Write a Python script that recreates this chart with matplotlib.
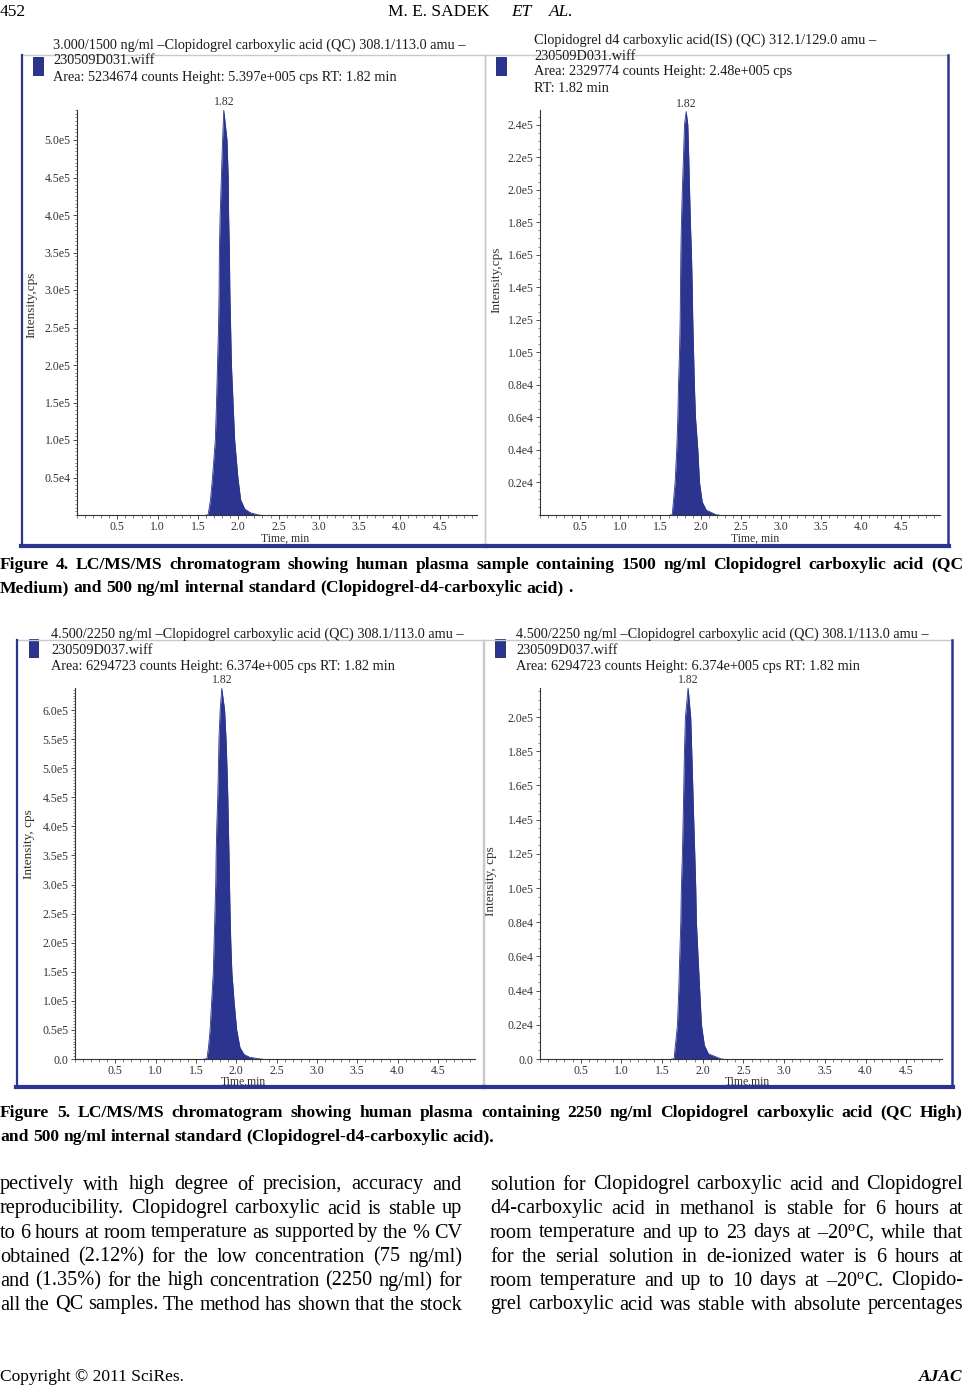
import matplotlib
matplotlib.use("Agg")
import matplotlib.pyplot as plt
from matplotlib.lines import Line2D
from matplotlib.patches import Rectangle
from matplotlib.ticker import FixedLocator, MultipleLocator

plt.rcParams['font.family'] = ['Liberation Serif', 'DejaVu Serif']
plt.rcParams['mathtext.fontset'] = 'custom'
plt.rcParams['mathtext.rm'] = 'Liberation Serif'
plt.rcParams['mathtext.it'] = 'Liberation Serif:italic'

# ───── DATA (intensities in units of 1e5 cps, time in min) ─────
# Fig 4 left: Clopidogrel carboxylic acid, QC medium
time_a = [1.60, 1.625, 1.655, 1.68, 1.715, 1.73, 1.742, 1.755, 1.762, 1.765, 1.775, 1.79, 1.805,
          1.82, 1.86, 1.875, 1.88, 1.89, 1.895, 1.905, 1.915, 1.935, 1.955, 1.995, 2.03, 2.08,
          2.15, 2.25, 2.27]
int_a = [0, 0, 0.2, 0.5, 1.0, 1.5, 2.0, 2.5, 3.0, 3.5, 4.0, 4.5, 5.0,
         5.397, 5.0, 4.5, 4.0, 3.5, 3.0, 2.5, 2.0, 1.5, 1.0, 0.5, 0.2, 0.08,
         0.03, 0, 0]
# Fig 4 right: Clopidogrel d4 carboxylic acid (IS)
time_b = [1.62, 1.646, 1.682, 1.702, 1.716, 1.724, 1.737, 1.745, 1.749, 1.753, 1.761, 1.772, 1.786,
          1.799, 1.82, 1.84, 1.852, 1.862, 1.872, 1.886, 1.895, 1.902, 1.912, 1.922, 1.936, 1.965,
          1.986, 2.02, 2.07, 2.20, 2.23]
int_b = [0, 0, 0.2, 0.4, 0.6, 0.8, 1.0, 1.2, 1.4, 1.6, 1.8, 2.0, 2.2,
         2.4, 2.48, 2.4, 2.2, 2.0, 1.8, 1.6, 1.4, 1.2, 1.0, 0.8, 0.6, 0.4,
         0.2, 0.08, 0.03, 0, 0]
# Fig 5 left: Clopidogrel carboxylic acid, QC high
time_c = [1.60, 1.635, 1.655, 1.675, 1.695, 1.715, 1.725, 1.735, 1.745, 1.75, 1.758, 1.77, 1.778,
          1.785, 1.80, 1.82, 1.855, 1.873, 1.885, 1.895, 1.902, 1.910, 1.916, 1.923, 1.932, 1.945,
          1.972, 2.005, 2.045, 2.095, 2.165, 2.295, 2.32]
int_c = [0, 0, 0.2, 0.5, 1.0, 1.5, 2.0, 2.5, 3.0, 3.5, 4.0, 4.5, 5.0,
         5.5, 6.0, 6.374, 6.0, 5.5, 5.0, 4.5, 4.0, 3.5, 3.0, 2.5, 2.0, 1.5,
         1.0, 0.5, 0.2, 0.08, 0.03, 0, 0]
# Fig 5 right
time_d = [1.62, 1.647, 1.689, 1.705, 1.717, 1.73, 1.737, 1.75, 1.759, 1.767, 1.775, 1.787, 1.82,
          1.852, 1.865, 1.877, 1.889, 1.902, 1.914, 1.922, 1.942, 1.963, 1.984, 2.02, 2.07, 2.227, 2.25]
int_d = [0, 0, 0.2, 0.4, 0.6, 0.8, 1.0, 1.2, 1.4, 1.6, 1.8, 2.0, 2.17,
         2.0, 1.8, 1.6, 1.4, 1.2, 1.0, 0.8, 0.6, 0.4, 0.2, 0.08, 0.03, 0, 0]

x_ticks = [0.5, 1.0, 1.5, 2.0, 2.5, 3.0, 3.5, 4.0, 4.5]
x_ticklabels = ["0.5", "1.0", "1.5", "2.0", "2.5", "3.0", "3.5", "4.0", "4.5"]

yt_a = [0.5, 1.0, 1.5, 2.0, 2.5, 3.0, 3.5, 4.0, 4.5, 5.0]
ytl_a = ["0.5e4", "1.0e5", "1.5e5", "2.0e5", "2.5e5", "3.0e5", "3.5e5", "4.0e5", "4.5e5", "5.0e5"]
yt_b = [0.2, 0.4, 0.6, 0.8, 1.0, 1.2, 1.4, 1.6, 1.8, 2.0, 2.2, 2.4]
ytl_b = ["0.2e4", "0.4e4", "0.6e4", "0.8e4", "1.0e5", "1.2e5", "1.4e5", "1.6e5", "1.8e5",
         "2.0e5", "2.2e5", "2.4e5"]
yt_c = [0.0, 0.5, 1.0, 1.5, 2.0, 2.5, 3.0, 3.5, 4.0, 4.5, 5.0, 5.5, 6.0]
ytl_c = ["0.0", "0.5e5", "1.0e5", "1.5e5", "2.0e5", "2.5e5", "3.0e5", "3.5e5", "4.0e5", "4.5e5",
         "5.0e5", "5.5e5", "6.0e5"]
yt_d = [0.0, 0.2, 0.4, 0.6, 0.8, 1.0, 1.2, 1.4, 1.6, 1.8, 2.0]
ytl_d = ["0.0", "0.2e4", "0.4e4", "0.6e4", "0.8e4", "1.0e5", "1.2e5", "1.4e5", "1.6e5", "1.8e5", "2.0e5"]

titles_a = ["3.000/1500 ng/ml \u2013Clopidogrel carboxylic acid (QC) 308.1/113.0 amu \u2013",
            "230509D031.wiff",
            "Area: 5234674 counts Height: 5.397e+005 cps RT: 1.82 min"]
titles_b = ["Clopidogrel d4 carboxylic acid(IS) (QC) 312.1/129.0 amu \u2013",
            "230509D031.wiff",
            "Area: 2329774 counts Height: 2.48e+005 cps",
            "RT: 1.82 min"]
titles_c = ["4.500/2250 ng/ml \u2013Clopidogrel carboxylic acid (QC) 308.1/113.0 amu \u2013",
            "230509D037.wiff",
            "Area: 6294723 counts Height: 6.374e+005 cps RT: 1.82 min"]
titles_d = list(titles_c)

caption4 = ["Figure 4. LC/MS/MS chromatogram showing human plasma sample containing 1500 ng/ml "
            "Clopidogrel carboxylic acid (QC",
            "Medium) and 500 ng/ml internal standard (Clopidogrel-d4-carboxylic acid) ."]
caption5 = ["Figure 5. LC/MS/MS chromatogram showing human plasma containing 2250 ng/ml "
            "Clopidogrel carboxylic acid (QC High)",
            "and 500 ng/ml internal standard (Clopidogrel-d4-carboxylic acid)."]
body_left = ["pectively with high degree of precision, accuracy and",
             "reproducibility. Clopidogrel carboxylic acid is stable up",
             "to 6 hours at room temperature as supported by the % CV",
             "obtained (2.12%) for the low concentration (75 ng/ml)",
             "and (1.35%) for the high concentration (2250 ng/ml) for",
             "all the QC samples. The method has shown that the stock"]
body_right = ["solution for Clopidogrel carboxylic acid and Clopidogrel",
              "d4-carboxylic acid in methanol is stable for 6 hours at",
              "room temperature and up to 23 days at \u201320$^{\\mathrm{o}}$C, while that",
              "for the serial solution in de-ionized water is 6 hours at",
              "room temperature and up to 10 days at \u201320$^{\\mathrm{o}}$C. Clopido-",
              "grel carboxylic acid was stable with absolute percentages"]
# ───────────────────────────────────────────────────────────────

W, H = 976, 1386
NAVY = '#2b3590'
GREY = '#c9c9c9'
TXT = '#1a1a1a'

fig = plt.figure(figsize=(W / 100, H / 100), dpi=100)
fig.patch.set_facecolor('white')


def fx(x):
    return x / W


def fy(y):
    return 1 - y / H


def hline(x0, x1, y, color, lw):
    fig.add_artist(Line2D([fx(x0), fx(x1)], [fy(y), fy(y)], color=color, lw=lw))


def vline(x, y0, y1, color, lw):
    fig.add_artist(Line2D([fx(x), fx(x)], [fy(y0), fy(y1)], color=color, lw=lw))


# panel layout: frame box, navy side, legend square, title origin, axes box (pixels)
panels = [
    dict(t=time_a, v=int_a, yt=yt_a, ytl=ytl_a, ymax=5.40, xmax=4.96, titles=titles_a,
         frame=(22, 55, 485, 546), navy_side='left', sq=(33, 57, 43, 75), tx=53, ty=45,
         ax=(77, 110, 477, 515), ylab="Intensity,cps", ylab_pos=(-0.10, 0.52),
         xlab="Time, min", xlab_pos=(0.52, -0.044)),
    dict(t=time_b, v=int_b, yt=yt_b, ytl=ytl_b, ymax=2.49, xmax=4.98, titles=titles_b,
         frame=(485, 55, 948, 546), navy_side='right', sq=(496, 57, 506, 75), tx=534, ty=40,
         ax=(540, 110, 940, 515), ylab="Intensity,cps", ylab_pos=(-0.093, 0.58),
         xlab="Time, min", xlab_pos=(0.5375, -0.044)),
    dict(t=time_c, v=int_c, yt=yt_c, ytl=ytl_c, ymax=6.38, xmax=4.96, titles=titles_c,
         frame=(17, 640, 483, 1087), navy_side='left', sq=(29, 639, 38, 657), tx=51, ty=634,
         ax=(75, 688, 475, 1059), ylab="Intensity, cps", ylab_pos=(-0.10, 0.58),
         xlab="Time,min", xlab_pos=(0.42, -0.046)),
    dict(t=time_d, v=int_d, yt=yt_d, ytl=ytl_d, ymax=2.17, xmax=4.94, titles=titles_d,
         frame=(484, 640, 952, 1087), navy_side='right', sq=(495, 639, 505, 657), tx=516, ty=634,
         ax=(540, 688, 942, 1059), ylab="Intensity, cps", ylab_pos=(-0.107, 0.48),
         xlab="Time,min", xlab_pos=(0.515, -0.046)),
]

for p in panels:
    x0, y0, x1, y1 = p['frame']
    hline(x0, x1, y0, GREY, 1.0)
    if p['navy_side'] == 'left':
        vline(x0, y0, y1, NAVY, 1.6)
        vline(x1, y0, y1, GREY, 1.0)
    else:
        vline(x0, y0, y1, GREY, 1.0)
        vline(x1, y0, y1, NAVY, 1.8)
    hline(x0 - 1, x1 + 1, y1, NAVY, 3.0)

    sx0, sy0, sx1, sy1 = p['sq']
    fig.add_artist(Rectangle((fx(sx0), fy(sy1)), (sx1 - sx0) / W, (sy1 - sy0) / H,
                             transform=fig.transFigure, facecolor=NAVY, edgecolor='#1c2260', lw=0.6))
    for i, line in enumerate(p['titles']):
        fig.text(fx(p['tx']), fy(p['ty'] + 16 * i), line, fontsize=10.3, color=TXT,
                 ha='left', va='center')

    ax0, ay0, ax1, ay1 = p['ax']
    ax = fig.add_axes([fx(ax0), fy(ay1), (ax1 - ax0) / W, (ay1 - ay0) / H])
    ax.set_facecolor('none')
    ax.fill_between(p['t'], p['v'], color=NAVY, lw=0)
    ax.plot(p['t'], p['v'], color=NAVY, lw=0.6)
    ax.set_xlim(0, p['xmax'])
    ax.set_ylim(0, p['ymax'])
    ipk = p['v'].index(max(p['v']))
    ax.annotate("1.82", (p['t'][ipk], p['v'][ipk]), xytext=(0, 1.5), textcoords='offset points',
                ha='center', va='bottom', fontsize=8.5, color='#333333')

    ax.xaxis.set_major_locator(FixedLocator(x_ticks))
    ax.set_xticklabels(x_ticklabels)
    ax.xaxis.set_minor_locator(MultipleLocator(0.1))
    ax.yaxis.set_major_locator(FixedLocator(p['yt']))
    ax.set_yticklabels(p['ytl'])
    ax.yaxis.set_minor_locator(MultipleLocator(0.05))
    ax.tick_params(which='major', direction='out', length=3, width=0.6, color='#333333',
                   labelsize=8.5, labelcolor='#333333', pad=1.5)
    ax.tick_params(which='minor', direction='out', length=1.8, width=0.5, color='#555555')
    for s in ('top', 'right'):
        ax.spines[s].set_visible(False)
    for s in ('left', 'bottom'):
        ax.spines[s].set_color('#333333')
        ax.spines[s].set_linewidth(0.8)
    ax.set_xlabel(p['xlab'], fontsize=8.5, color='#333333')
    ax.xaxis.set_label_coords(*p['xlab_pos'])
    ax.set_ylabel(p['ylab'], fontsize=9.5, color='#333333')
    ax.yaxis.set_label_coords(*p['ylab_pos'])

renderer = fig.canvas.get_renderer()


def text_width(s, size, weight):
    t = fig.text(0, 0, s, fontsize=size, fontweight=weight)
    w = t.get_window_extent(renderer).width
    t.remove()
    return w


def justify(line, x0, x1, y, size, weight='normal', full=True):
    words = line.split(' ')
    texts = [fig.text(0, fy(y), w, fontsize=size, fontweight=weight, color='black',
                      ha='left', va='center') for w in words]
    widths = [t.get_window_extent(renderer).width for t in texts]
    space = text_width('a a', size, weight) - 2 * text_width('a', size, weight)
    if full and len(words) > 1:
        gap = (x1 - x0 - sum(widths)) / (len(words) - 1)
    else:
        gap = space
    x = x0
    for t, w in zip(texts, widths):
        t.set_x(fx(x))
        x += w + gap


# header
fig.text(fx(0), fy(12), "452", fontsize=12.5, ha='left', va='center')
fig.text(fx(490), fy(12), "M. E. SADEK", fontsize=12.5, ha='right', va='center')
fig.text(fx(511), fy(12), "ET", fontsize=12.5, style='italic', ha='left', va='center')
fig.text(fx(549), fy(12), "AL.", fontsize=12.5, style='italic', ha='left', va='center')

# captions
CAP = 12.6
justify(caption4[0], 0, 963, 565, CAP, 'bold')
justify(caption4[1], 0, 963, 588, CAP, 'bold', full=False)
justify(caption5[0], 0, 963, 1113, CAP, 'bold')
justify(caption5[1], 0, 963, 1137, CAP, 'bold', full=False)

# body text, two columns
BODY = 14.6
for i, line in enumerate(body_left):
    justify(line, 0, 462, 1185 + 24 * i, BODY)
for i, line in enumerate(body_right):
    justify(line, 490, 963, 1185 + 24 * i, BODY)

# footer
fig.text(fx(0), fy(1377), "Copyright \u00a9 2011 SciRes.", fontsize=12.5, ha='left', va='center')
fig.text(fx(963), fy(1377), "AJAC", fontsize=12.5, style='italic', fontweight='bold',
         ha='right', va='center')

fig.savefig("out.png", dpi=100, facecolor='white')
plt.close(fig)
